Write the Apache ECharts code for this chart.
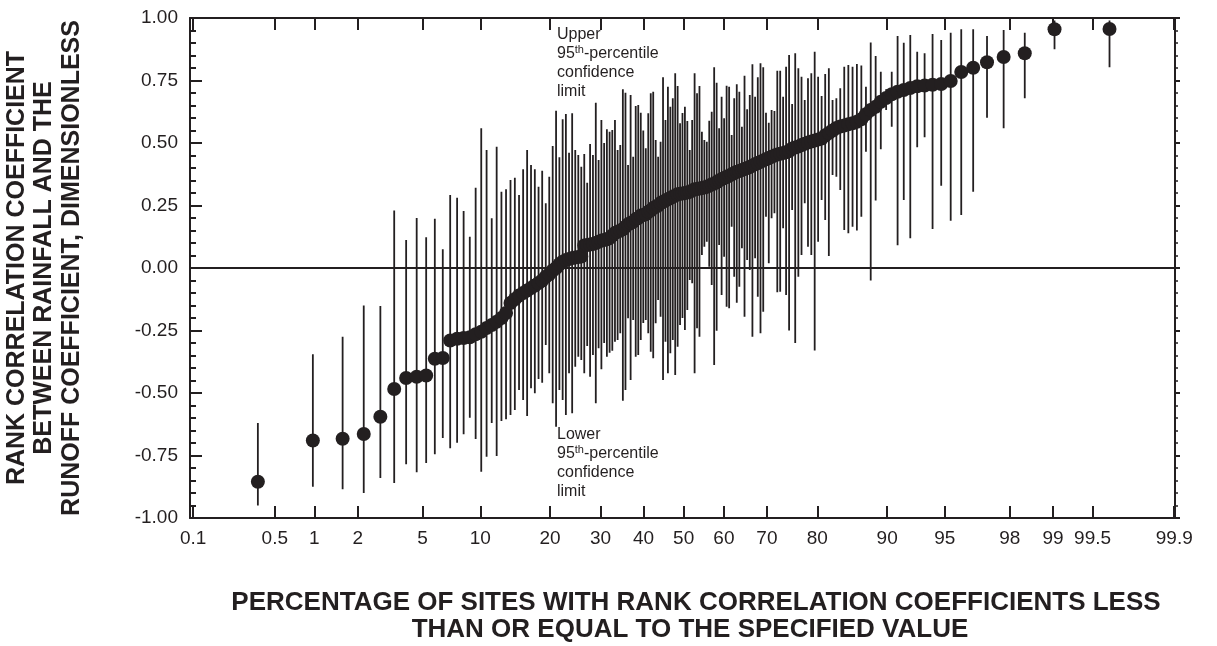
<!DOCTYPE html>
<html>
<head>
<meta charset="utf-8">
<title>Rank correlation coefficients</title>
<script src="https://cdn.jsdelivr.net/npm/echarts@6/dist/echarts.min.js"></script>
<style>
  html, body { margin: 0; padding: 0; background: #fff; }
  #chart { width: 1217px; height: 646px; }
</style>
</head>
<body>
<div id="chart"></div>
<script>
// probability axis ticks (percent) and their labels
var tickPercents = [0.1, 0.5, 1, 2, 5, 10, 20, 30, 40, 50, 60, 70, 80, 90, 95, 98, 99, 99.5, 99.9];
var tickLabels = ['0.1', '0.5', '1', '2', '5', '10', '20', '30', '40', '50', '60', '70', '80', '90', '95', '98', '99', '99.5', '99.9'];

// rank correlation coefficient of each site, sorted
var rho = [
  -0.855, -0.69, -0.683, -0.664, -0.595, -0.484, -0.44, -0.435, -0.43, -0.363,
  -0.36, -0.29, -0.283, -0.28, -0.277, -0.265, -0.255, -0.24, -0.228, -0.215,
  -0.20, -0.18, -0.14, -0.125, -0.11, -0.10, -0.09, -0.08, -0.07, -0.06,
  -0.05, -0.035, -0.025, -0.01, 0.0, 0.015, 0.025, 0.032, 0.036, 0.04,
  0.042, 0.044, 0.046, 0.09, 0.092, 0.094, 0.096, 0.10, 0.105, 0.11,
  0.112, 0.115, 0.12, 0.13, 0.14, 0.145, 0.15, 0.155, 0.165, 0.175,
  0.18, 0.185, 0.195, 0.20, 0.21, 0.212, 0.215, 0.225, 0.23, 0.24,
  0.245, 0.25, 0.26, 0.265, 0.27, 0.275, 0.28, 0.285, 0.29, 0.295,
  0.297, 0.298, 0.30, 0.302, 0.305, 0.31, 0.315, 0.316, 0.318, 0.32,
  0.322, 0.325, 0.33, 0.334, 0.338, 0.343, 0.35, 0.355, 0.36, 0.364,
  0.37, 0.374, 0.38, 0.385, 0.388, 0.392, 0.396, 0.40, 0.404, 0.41,
  0.415, 0.42, 0.425, 0.43, 0.435, 0.44, 0.445, 0.45, 0.454, 0.457,
  0.46, 0.463, 0.468, 0.478, 0.482, 0.486, 0.492, 0.497, 0.502, 0.506,
  0.51, 0.514, 0.518, 0.53, 0.54, 0.55, 0.56, 0.566, 0.57, 0.575,
  0.579, 0.585, 0.595, 0.615, 0.632, 0.645, 0.665, 0.68, 0.695, 0.705,
  0.712, 0.72, 0.727, 0.73, 0.733, 0.736, 0.748, 0.784, 0.801, 0.823,
  0.844, 0.859, 0.955, 0.956
];

// upper 95th-percentile confidence limit of each site
var upper = [
  -0.62, -0.345, -0.275, -0.15, -0.152, 0.23, 0.112, 0.20, 0.123, 0.197,
  0.075, 0.292, 0.281, 0.228, 0.125, 0.321, 0.559, 0.472, 0.199, 0.485,
  0.305, 0.315, 0.352, 0.361, 0.292, 0.395, 0.472, 0.412, 0.395, 0.325,
  0.389, 0.259, 0.365, 0.488, 0.629, 0.443, 0.595, 0.616, 0.461, 0.619,
  0.472, 0.452, 0.405, 0.456, 0.341, 0.496, 0.452, 0.661, 0.432, 0.592,
  0.50, 0.555, 0.545, 0.552, 0.592, 0.472, 0.492, 0.715, 0.701, 0.412,
  0.692, 0.445, 0.648, 0.652, 0.621, 0.55, 0.479, 0.619, 0.699, 0.705,
  0.512, 0.445, 0.505, 0.763, 0.592, 0.725, 0.645, 0.679, 0.779, 0.728,
  0.579, 0.62, 0.645, 0.588, 0.472, 0.592, 0.779, 0.699, 0.728, 0.545,
  0.512, 0.505, 0.589, 0.625, 0.803, 0.741, 0.559, 0.685, 0.599, 0.729,
  0.725, 0.532, 0.679, 0.735, 0.705, 0.565, 0.769, 0.635, 0.692, 0.815,
  0.685, 0.763, 0.819, 0.803, 0.621, 0.581, 0.632, 0.628, 0.789, 0.789,
  0.685, 0.805, 0.852, 0.656, 0.859, 0.799, 0.765, 0.672, 0.759, 0.779,
  0.865, 0.765, 0.688, 0.776, 0.799, 0.672, 0.679, 0.719, 0.805, 0.812,
  0.805, 0.816, 0.81, 0.725, 0.902, 0.848, 0.785, 0.715, 0.785, 0.928,
  0.901, 0.932, 0.865, 0.859, 0.936, 0.912, 0.941, 0.955, 0.955, 0.928,
  0.952, 0.941, 0.99, 0.99
];

// lower 95th-percentile confidence limit of each site
var lower = [
  -0.95, -0.875, -0.885, -0.90, -0.84, -0.86, -0.785, -0.817, -0.78, -0.745,
  -0.68, -0.721, -0.699, -0.665, -0.599, -0.684, -0.815, -0.755, -0.62, -0.752,
  -0.612, -0.605, -0.588, -0.568, -0.488, -0.528, -0.592, -0.481, -0.501, -0.444,
  -0.459, -0.308, -0.421, -0.541, -0.635, -0.488, -0.528, -0.588, -0.421, -0.581,
  -0.395, -0.355, -0.368, -0.421, -0.312, -0.435, -0.348, -0.541, -0.321, -0.405,
  -0.30, -0.355, -0.339, -0.331, -0.295, -0.288, -0.261, -0.531, -0.488, -0.201,
  -0.448, -0.208, -0.355, -0.348, -0.288, -0.22, -0.208, -0.261, -0.335, -0.361,
  -0.221, -0.128, -0.195, -0.448, -0.295, -0.421, -0.341, -0.288, -0.428, -0.315,
  -0.228, -0.20, -0.248, -0.168, -0.048, -0.061, -0.421, -0.241, -0.275, 0.052,
  0.085, 0.105, 0.005, -0.068, -0.388, -0.251, 0.092, -0.108, 0.045, -0.155,
  -0.161, 0.165, -0.035, -0.139, -0.075, 0.079, -0.195, 0.032, -0.008, -0.275,
  0.039, -0.115, -0.261, -0.175, 0.205, 0.019, 0.199, 0.219, -0.097, -0.095,
  0.159, -0.108, -0.25, 0.232, -0.30, -0.035, 0.052, 0.259, 0.085, 0.052,
  -0.33, 0.105, 0.272, 0.192, 0.048, 0.372, 0.365, 0.312, 0.152, 0.139,
  0.165, 0.15, 0.205, 0.465, -0.05, 0.27, 0.475, 0.632, 0.565, 0.091,
  0.272, 0.119, 0.483, 0.523, 0.156, 0.329, 0.189, 0.212, 0.305, 0.601,
  0.559, 0.679, 0.875, 0.803
];

// inverse standard normal (probability axis scale), Acklam's approximation
function probit(p) {
  var a = [-39.69683028665376, 220.9460984245205, -275.9285104469687, 138.3577518672690, -30.66479806614716, 2.506628277459239];
  var b = [-54.47609879822406, 161.5858368580409, -155.6989798598866, 66.80131188771972, -13.28068155288572];
  var c = [-0.007784894002430293, -0.3223964580411365, -2.400758277161838, -2.549732539343734, 4.374664141464968, 2.938163982698783];
  var d = [0.007784695709041462, 0.3224671290700398, 2.445134137142996, 3.754408661907416];
  var q, r;
  if (p < 0.02425) {
    q = Math.sqrt(-2 * Math.log(p));
    return (((((c[0] * q + c[1]) * q + c[2]) * q + c[3]) * q + c[4]) * q + c[5]) / ((((d[0] * q + d[1]) * q + d[2]) * q + d[3]) * q + 1);
  }
  if (p > 1 - 0.02425) {
    q = Math.sqrt(-2 * Math.log(1 - p));
    return -(((((c[0] * q + c[1]) * q + c[2]) * q + c[3]) * q + c[4]) * q + c[5]) / ((((d[0] * q + d[1]) * q + d[2]) * q + d[3]) * q + 1);
  }
  q = p - 0.5;
  r = q * q;
  return (((((a[0] * r + a[1]) * r + a[2]) * r + a[3]) * r + a[4]) * r + a[5]) * q / (((((b[0] * r + b[1]) * r + b[2]) * r + b[3]) * r + b[4]) * r + 1);
}

var tickZ = tickPercents.map(function (p) { return probit(p / 100); });

// plotting positions of the sorted sites
var n = rho.length;
var dots = [];
var limits = [];
for (var i = 0; i < n; i++) {
  var z = probit((i + 1 - 0.4) / (n + 0.2));
  dots.push([z, rho[i]]);
  limits.push([z, upper[i], lower[i]]);
}

function xLabel(v) {
  var best = 0;
  for (var k = 1; k < tickZ.length; k++) {
    if (Math.abs(tickZ[k] - v) < Math.abs(tickZ[best] - v)) best = k;
  }
  return tickLabels[best];
}

var ink = '#231f20';
var font = '"Liberation Sans", Arial, Helvetica, sans-serif';

var chart = echarts.init(document.getElementById('chart'));

var xBase = {
  type: 'value',
  min: -3.11,
  max: 3.095,
  axisLine: { show: true, onZero: false, lineStyle: { color: ink, width: 2 } },
  axisTick: { show: true, inside: true, length: 12, customValues: tickZ, lineStyle: { color: ink, width: 2 } },
  splitLine: { show: false }
};

var yBase = {
  type: 'value',
  min: -1,
  max: 1,
  interval: 0.25,
  axisLine: { show: true, onZero: false, lineStyle: { color: ink, width: 2 } },
  splitLine: { show: false }
};

var noteRich = {
  a: { fontSize: 16, lineHeight: 19, fontFamily: font, fill: ink },
  s: { fontSize: 11, lineHeight: 12, verticalAlign: 'top', fontFamily: font, fill: ink }
};

function titleText(x, y, text, size, sx, rot) {
  return {
    type: 'text', x: x, y: y, rotation: rot || 0, scaleX: sx,
    style: { text: text, fill: ink, font: 'bold ' + size + 'px ' + font, textAlign: 'center', textVerticalAlign: 'middle' }
  };
}

var option = {
  animation: false,
  backgroundColor: '#fff',
  grid: { left: 190, top: 18, width: 985, height: 500 },
  xAxis: [
    Object.assign({}, xBase, {
      position: 'bottom',
      axisLabel: {
        show: true, customValues: tickZ, margin: 11,
        color: ink, fontSize: 19, fontFamily: font,
        formatter: xLabel
      }
    }),
    Object.assign({}, xBase, {
      position: 'top',
      axisLabel: { show: false }
    })
  ],
  yAxis: [
    Object.assign({}, yBase, {
      position: 'left',
      axisTick: { show: true, inside: true, length: 12, lineStyle: { color: ink, width: 2 } },
      minorTick: { show: true, splitNumber: 5, length: 6, lineStyle: { color: ink, width: 2 } },
      axisLabel: {
        color: ink, fontSize: 19, fontFamily: font, margin: 12,
        formatter: function (v) { return v.toFixed(2); }
      }
    }),
    Object.assign({}, yBase, {
      position: 'right',
      axisTick: { show: true, inside: false, length: 5, lineStyle: { color: ink, width: 2 } },
      minorTick: { show: true, splitNumber: 5, length: 3, lineStyle: { color: ink, width: 1.5 } },
      axisLabel: { show: false }
    })
  ],
  series: [
    {
      // 95th-percentile confidence limits
      type: 'custom',
      xAxisIndex: 0,
      yAxisIndex: 0,
      encode: { x: 0, y: [1, 2] },
      data: limits,
      renderItem: function (params, api) {
        var top = api.coord([api.value(0), api.value(1)]);
        var bot = api.coord([api.value(0), api.value(2)]);
        return {
          type: 'line',
          shape: { x1: top[0], y1: top[1], x2: bot[0], y2: bot[1] },
          style: { stroke: ink, lineWidth: 1.8 }
        };
      },
      markLine: {
        silent: true,
        symbol: ['none', 'none'],
        label: { show: false },
        lineStyle: { color: ink, width: 2, type: 'solid' },
        data: [{ yAxis: 0 }]
      },
      z: 2
    },
    {
      type: 'scatter',
      xAxisIndex: 0,
      yAxisIndex: 0,
      data: dots,
      symbol: 'circle',
      symbolSize: 14,
      itemStyle: { color: ink, opacity: 1 },
      z: 3
    }
  ],
  graphic: [
    {
      type: 'text', left: 557, top: 27,
      style: { text: '{a|Upper}\n{a|95}{s|th}{a|-percentile}\n{a|confidence}\n{a|limit}', fill: ink, rich: noteRich }
    },
    {
      type: 'text', left: 557, top: 427,
      style: { text: '{a|Lower}\n{a|95}{s|th}{a|-percentile}\n{a|confidence}\n{a|limit}', fill: ink, rich: noteRich }
    },
    titleText(17, 268, 'RANK CORRELATION COEFFICIENT', 25, 1, -Math.PI / 2 * -1),
    titleText(44, 268, 'BETWEEN RAINFALL AND THE', 25, 1, Math.PI / 2),
    titleText(72, 268, 'RUNOFF COEFFICIENT, DIMENSIONLESS', 25, 1, Math.PI / 2),
    titleText(696, 603, 'PERCENTAGE OF SITES WITH RANK CORRELATION COEFFICIENTS LESS', 26, 1),
    titleText(690, 630, 'THAN OR EQUAL TO THE SPECIFIED VALUE', 26, 1)
  ]
};

chart.setOption(option);
</script>
</body>
</html>
